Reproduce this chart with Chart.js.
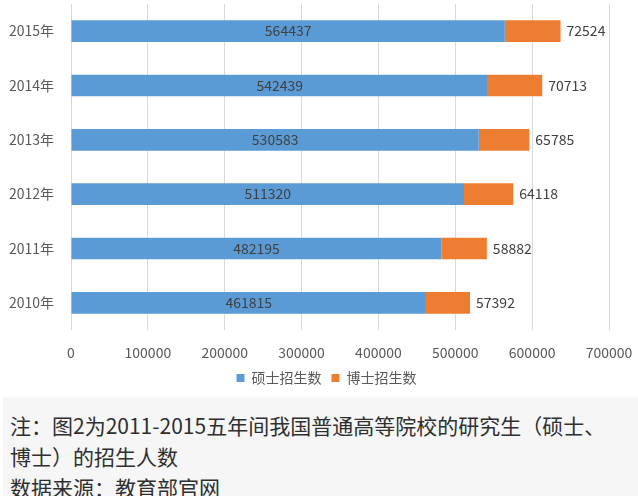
<!DOCTYPE html>
<html>
<head>
<meta charset="utf-8">
<script src="https://cdn.jsdelivr.net/npm/chart.js"></script>
<style>
  body{margin:0;background:#fff;font-family:"Noto Sans CJK SC","Noto Sans",sans-serif;}
  #wrap{position:relative;width:638px;height:395px;}
  #note{position:absolute;left:3px;top:397px;width:635px;height:99px;background:#f6f6f6;
        box-sizing:border-box;padding:13px 0 0 7px;font-size:21px;line-height:31px;color:#2f2f2f;}
</style>
</head>
<body>
<div id="wrap"><canvas id="chart"></canvas></div>
<div id="note">注：图2为2011-2015五年间我国普通高等院校的研究生（硕士、<br>博士）的招生人数<br>数据来源：教育部官网</div>
<script>
const years = ['2015年','2014年','2013年','2012年','2011年','2010年'];
const masters = [564437, 542439, 530583, 511320, 482195, 461815];
const doctors = [72524, 70713, 65785, 64118, 58882, 57392];
const xTicks = [0,100000,200000,300000,400000,500000,600000,700000];

const font = '"Noto Sans CJK SC","Noto Sans",sans-serif';

// draws the numbers on / next to the bars
const barLabels = {
  id: 'barLabels',
  afterLayout(chart){
    // legend sits a bit right of centre in the original
    chart.legend.left += 22;
    chart.legend.right += 22;
  },
  afterDatasetsDraw(chart){
    const ctx = chart.ctx;
    ctx.save();
    ctx.font = '14px ' + font;
    ctx.fillStyle = '#404040';
    ctx.textBaseline = 'middle';
    chart.getDatasetMeta(0).data.forEach((bar, i) => {
      ctx.textAlign = 'center';
      ctx.fillText(masters[i], (bar.x + bar.base) / 2, bar.y);
    });
    chart.getDatasetMeta(1).data.forEach((bar, i) => {
      ctx.textAlign = 'left';
      ctx.fillText(doctors[i], bar.x + 6, bar.y);
    });
    ctx.restore();
  }
};

new Chart(document.getElementById('chart'), {
  type: 'bar',
  data: {
    labels: years,
    datasets: [
      {label: '硕士招生数', data: masters, backgroundColor: '#5B9BD5', barPercentage: 0.4, categoryPercentage: 1},
      {label: '博士招生数', data: doctors, backgroundColor: '#ED7D31', barPercentage: 0.4, categoryPercentage: 1}
    ]
  },
  options: {
    indexAxis: 'y',
    responsive: true,
    maintainAspectRatio: false,
    animation: false,
    layout: {autoPadding: false, padding: {top: 4, right: 29, left: 0, bottom: 0}},
    scales: {
      x: {
        stacked: true,
        min: 0, max: 700000,
        afterBuildTicks(scale){ scale.ticks = xTicks.map(v => ({value: v})); },
        afterFit(scale){ scale.height = 31; scale.paddingLeft = 0; scale.paddingRight = 0; },
        grid: {color: '#d9d9d9', drawTicks: false},
        border: {display: false},
        ticks: {padding: 14, color: '#595959', font: {family: font, size: 14}, maxRotation: 0,
                callback: v => String(v)}
      },
      y: {
        stacked: true,
        afterFit(scale){ scale.width = 71; scale.paddingTop = 0; scale.paddingBottom = 0; },
        grid: {display: false},
        border: {display: false},
        ticks: {padding: 9, color: '#595959', font: {family: font, size: 14}}
      }
    },
    plugins: {
      legend: {
        position: 'bottom',
        labels: {boxWidth: 8, boxHeight: 8, color: '#595959', font: {family: font, size: 14}, padding: 10}
      },
      tooltip: {enabled: false}
    }
  },
  plugins: [barLabels]
});
</script>
</body>
</html>
